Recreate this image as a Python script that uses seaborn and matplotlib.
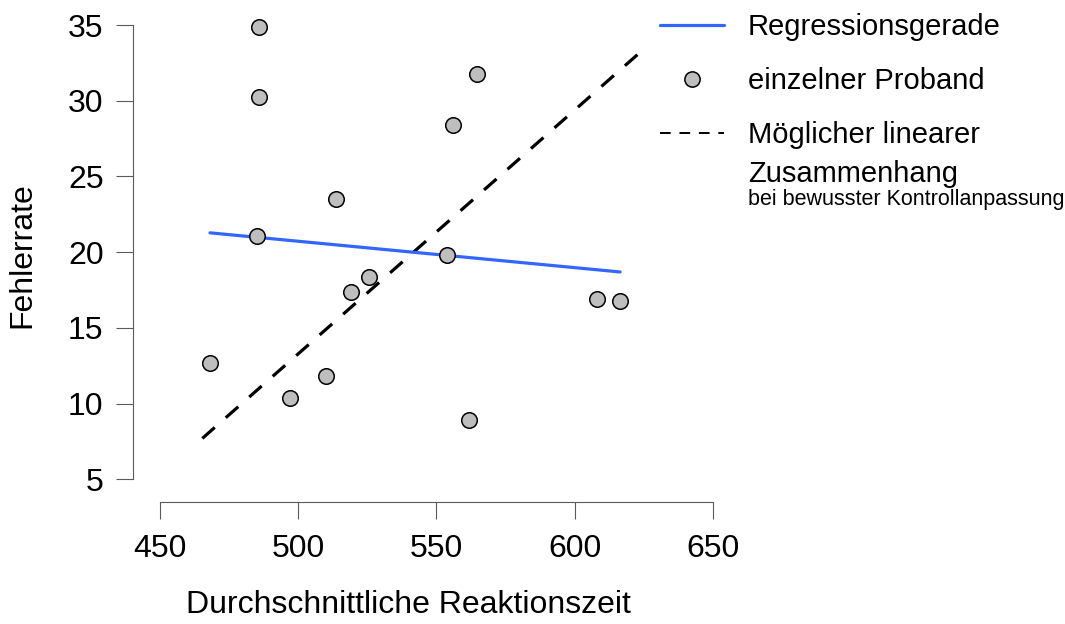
import matplotlib
matplotlib.use("Agg")
import matplotlib.pyplot as plt
from matplotlib.lines import Line2D
import numpy as np
import pandas as pd
import seaborn as sns

# Mean reaction time and error rate per participant
reaktionszeit = [485.7, 485.8, 564.8, 556.0, 513.6, 485.2, 553.7, 525.5,
                 519.1, 608.2, 616.5, 468.1, 510.1, 496.9, 561.9]
fehlerrate = [34.9, 30.25, 31.8, 28.4, 23.5, 21.1, 19.8, 18.35,
              17.4, 16.9, 16.8, 12.7, 11.8, 10.4, 8.9]

# Hypothetical relation under conscious control adjustment (end points)
hyp_x = [465.3, 623.1]
hyp_y = [7.7, 33.1]

x_ticks = [450, 500, 550, 600, 650]
y_ticks = [5, 10, 15, 20, 25, 30, 35]

df = pd.DataFrame({"rt": reaktionszeit, "err": fehlerrate})
hyp = pd.DataFrame({"rt": hyp_x, "err": hyp_y})

sns.set_theme(style="ticks")
plt.rcParams["font.family"] = ["Liberation Sans", "DejaVu Sans"]
plt.rcParams["text.color"] = "black"
plt.rcParams["axes.labelcolor"] = "black"

BLUE = "#3366FF"
AXCOL = "#5a5a5a"
DASH = (0, (5.2, 4.6))
W, H = 1065, 624

fig = plt.figure(figsize=(W / 100, H / 100), dpi=100)
ax = fig.add_axes([133 / W, (H - 502.3) / H, 607 / W, (502.3 - 15) / H])

sns.lineplot(data=hyp, x="rt", y="err", ax=ax, color="black", lw=2.3,
             linestyle=DASH, sort=False, zorder=2)
sns.regplot(data=df, x="rt", y="err", ax=ax, scatter=False, ci=None,
            truncate=True, line_kws=dict(color=BLUE, lw=2.3, zorder=3))
sns.scatterplot(data=df, x="rt", y="err", ax=ax, s=125, color="#bebebe",
                edgecolor="black", linewidth=1.1, zorder=4, clip_on=False)

ax.set_xlim(440.23, 659.88)
ax.set_ylim(3.481, 35.667)
ax.set_xticks(x_ticks)
ax.set_yticks(y_ticks)
ax.tick_params(axis="both", length=12.2, width=0.8, color=AXCOL,
               labelsize=23, labelcolor="black")
ax.tick_params(axis="x", pad=10.5)
ax.tick_params(axis="y", pad=9)
for side in ("top", "right"):
    ax.spines[side].set_visible(False)
for side in ("left", "bottom"):
    ax.spines[side].set_color(AXCOL)
    ax.spines[side].set_linewidth(0.8)
ax.spines["left"].set_bounds(y_ticks[0], y_ticks[-1])
ax.spines["bottom"].set_bounds(x_ticks[0], x_ticks[-1])

ax.set_xlabel("")
ax.set_ylabel("")
fig.text(408 / W, 1 - 605 / H, "Durchschnittliche Reaktionszeit",
         fontsize=23, ha="center", va="center")
fig.text(22 / W, 1 - 255 / H, "Fehlerrate", fontsize=23, rotation=90,
         ha="center", va="center")

handles = [
    Line2D([], [], color=BLUE, lw=2.3),
    Line2D([], [], ls="none", marker="o", markersize=11,
           markerfacecolor="#bebebe", markeredgecolor="black",
           markeredgewidth=1.1),
    Line2D([], [], color="black", lw=1.4, linestyle=(0, (5.5, 4.5))),
]
labels = ["Regressionsgerade", "einzelner Proband", "Möglicher linearer"]
fig.legend(handles, labels, loc="upper left",
           bbox_to_anchor=(654 / W, 1 - 7 / H), frameon=False,
           fontsize=21, handlelength=2.19, handletextpad=0.82,
           labelspacing=0.89, borderpad=0.2, borderaxespad=0)
fig.text(748 / W, 1 - 182 / H, "Zusammenhang", fontsize=21,
         ha="left", va="baseline")
fig.text(748 / W, 1 - 205 / H, "bei bewusster Kontrollanpassung",
         fontsize=15.5, ha="left", va="baseline")

fig.savefig("out.png", dpi=100, facecolor="white")
